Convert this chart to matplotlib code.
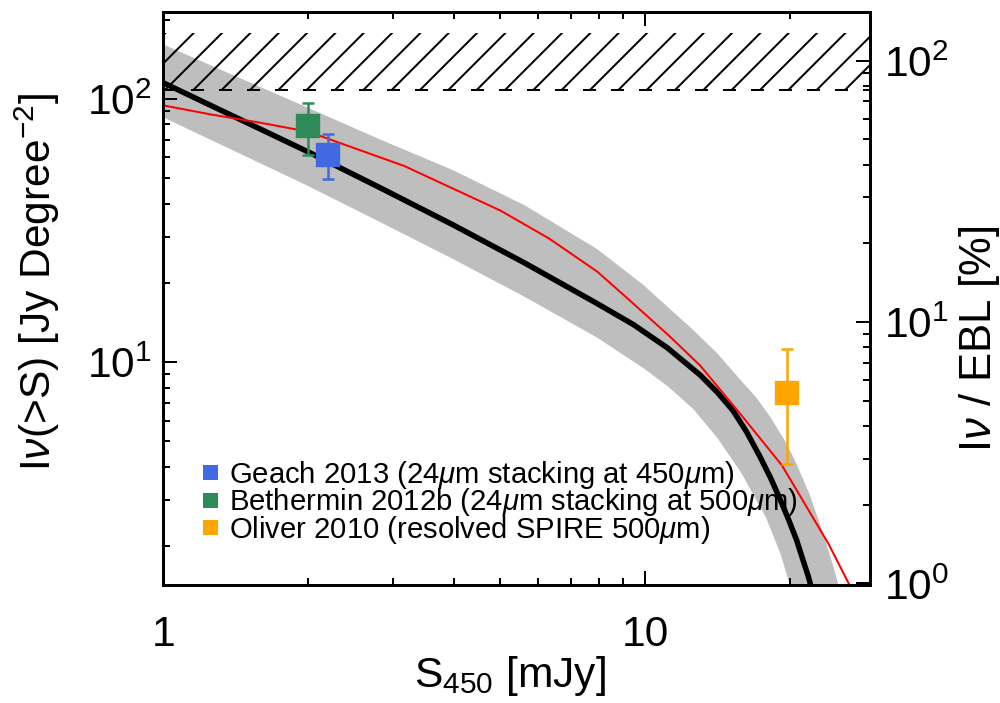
import matplotlib
matplotlib.use('Agg')
import matplotlib.pyplot as plt
from matplotlib.lines import Line2D
from matplotlib.ticker import FixedLocator, NullFormatter, LogFormatterSciNotation, LogLocator

DPI = 170

# black model curve I(>S)
model_s = [1.00, 1.41, 2.00, 2.82, 3.98, 5.62, 7.94, 9.44, 11.1, 13.0, 14.1, 15.2,
           16.2, 17.3, 18.2, 19.0, 19.8, 20.6, 21.2, 21.8, 22.4, 22.9]
model_i = [115, 85.2, 62.8, 45.9, 33.3, 23.8, 16.7, 13.9, 11.35, 8.93, 7.69, 6.55,
           5.46, 4.37, 3.63, 3.04, 2.54, 2.11, 1.79, 1.53, 1.27, 1.08]

# grey uncertainty band
band_hi_s = [1.00, 1.41, 2.00, 2.82, 3.98, 5.62, 7.94, 9.89, 12.6, 14.1, 15.8, 17.0,
             18.2, 19.5, 20.4, 21.9, 23.2, 24.5, 25.1, 26.3]
band_hi_i = [160.7, 122, 92.3, 70.0, 53.7, 39.4, 26.9, 19.7, 13.2, 10.8, 8.51, 7.33,
             6.17, 5.01, 4.27, 3.16, 2.34, 1.70, 1.45, 1.07]
band_lo_s = [1.00, 1.41, 2.00, 2.82, 3.98, 5.62, 7.94, 10.0, 11.2, 12.6, 14.1, 15.8,
             17.8, 19.1, 20.0, 20.4]
band_lo_i = [85, 63.1, 46.6, 34.0, 24.7, 17.7, 12.4, 9.38, 8.02, 6.61, 5.16, 3.81,
             2.57, 1.86, 1.40, 1.19]

# red curve
fit_s = [1.00, 1.26, 1.58, 2.00, 2.56, 3.16, 3.98, 5.01, 6.31, 7.94, 9.14, 11.2,
         13.0, 15.8, 19.2, 21.3, 24.0, 26.5, 28.2]
fit_i = [94.4, 87.1, 81.3, 75.0, 63.8, 55.6, 45.7, 37.6, 29.5, 22.1, 17.6, 12.6,
         9.7, 6.31, 4.06, 2.95, 2.04, 1.43, 1.17]

# EBL range (hatched)
ebl_lo, ebl_hi = 108, 178

# measurements
names = ['Geach 2013 (24$\\mu$m stacking at 450$\\mu$m)',
         'Bethermin 2012b (24$\\mu$m stacking at 500$\\mu$m)',
         'Oliver 2010 (resolved SPIRE 500$\\mu$m)']
colors = ['#4169e1', '#2e8b57', '#ffa500']
point_s = [2.2, 2.0, 19.7]
point_i = [61.1, 78.9, 7.66]
err_lo = [11.7, 17.8, 3.57]
err_hi = [12.5, 17.1, 3.54]


def px(v):
    return v * 72.0 / DPI


def main():
    plt.rcParams['font.family'] = ['Liberation Sans', 'DejaVu Sans']
    plt.rcParams['mathtext.fontset'] = 'custom'
    plt.rcParams['mathtext.rm'] = 'Liberation Sans'
    plt.rcParams['mathtext.it'] = 'Liberation Sans:italic'
    plt.rcParams['mathtext.bf'] = 'Liberation Sans:bold'
    plt.rcParams['hatch.linewidth'] = px(2)
    plt.rcParams['hatch.color'] = 'black'
    plt.rcParams['lines.scale_dashes'] = False

    fig = plt.figure(figsize=(1000.4 / DPI, 703.4 / DPI), dpi=DPI)
    ax = fig.add_axes([0.1633, 0.1683, 0.7067, 0.8136])
    ax.set_xscale('log')
    ax.set_yscale('log')

    ax.fill(band_hi_s + band_lo_s[::-1], band_hi_i + band_lo_i[::-1],
            color='#bebebe', lw=0, zorder=1)
    ax.axhspan(ebl_lo, ebl_hi, facecolor='none', edgecolor='black', hatch='//',
               lw=0, zorder=2)
    ax.axhline(ebl_lo, color='black', lw=px(2), ls=(0, (px(13), px(15))), zorder=2)

    ax.plot(model_s, model_i, color='black', lw=px(5.5), zorder=3)
    ax.plot(fit_s, fit_i, color='red', lw=px(2), zorder=4)

    for s, i, lo, hi, c in zip(point_s, point_i, err_lo, err_hi, colors):
        ax.errorbar([s], [i], yerr=[[lo], [hi]], fmt='s', color=c, mec=c,
                    ms=px(22), elinewidth=px(2.5), capsize=px(6),
                    capthick=px(2.5), zorder=5)

    ax.set_xlim(1, 29.3)
    ax.set_ylim(1.43, 213)

    ax.xaxis.set_major_locator(FixedLocator([1, 10]))
    ax.set_xticklabels(['1', '10'])
    ax.xaxis.set_minor_locator(FixedLocator([2, 3, 4, 5, 6, 7, 8, 9, 20]))
    ax.xaxis.set_minor_formatter(NullFormatter())
    ax.yaxis.set_major_locator(LogLocator(base=10))
    ax.yaxis.set_major_formatter(LogFormatterSciNotation())
    ax.yaxis.set_minor_locator(LogLocator(base=10, subs=range(2, 10)))
    ax.yaxis.set_minor_formatter(NullFormatter())

    ax.tick_params(which='both', direction='in', top=True, right=False,
                   width=px(2), labelsize=18)
    ax.tick_params(which='major', length=px(14))
    ax.tick_params(which='minor', length=px(7))
    ax.tick_params(axis='x', which='both', pad=px(30))
    ax.tick_params(axis='y', which='both', pad=px(12))
    for sp in ax.spines.values():
        sp.set_linewidth(px(3))

    ax.set_xlabel('S$_{450}$ [mJy]', fontsize=18, va='top')
    ax.xaxis.set_label_coords(0.49, -0.12)
    ax.set_ylabel('I$\\nu$(>S) [Jy Degree$^{-2}$]', fontsize=18)
    ax.yaxis.set_label_coords(-0.143, 0.53)

    ax2 = ax.twinx()
    ax2.set_yscale('log')
    ax2.set_ylim(0.99, 153)
    ax2.yaxis.set_major_locator(LogLocator(base=10))
    ax2.yaxis.set_major_formatter(LogFormatterSciNotation())
    ax2.yaxis.set_minor_locator(LogLocator(base=10, subs=range(2, 10)))
    ax2.yaxis.set_minor_formatter(NullFormatter())
    ax2.tick_params(which='both', direction='in', width=px(2), labelsize=18,
                    pad=px(14))
    ax2.tick_params(which='major', length=px(14))
    ax2.tick_params(which='minor', length=px(7))
    for sp in ax2.spines.values():
        sp.set_linewidth(px(3))
    ax2.set_ylabel('I$\\nu$ / EBL [%]', fontsize=18.5)
    ax2.yaxis.set_label_coords(1.123, 0.43)

    handles = [Line2D([], [], marker='s', ls='none', color=c, mew=0, ms=px(15))
               for c in colors]
    ax.legend(handles, names, loc='lower left', bbox_to_anchor=(0.053, 0.068),
              frameon=False, fontsize=12.4, borderpad=0, borderaxespad=0,
              handlelength=0.6, handletextpad=0.35, labelspacing=-0.15)

    fig.savefig('out.png', dpi=DPI)


if __name__ == "__main__":
    main()
